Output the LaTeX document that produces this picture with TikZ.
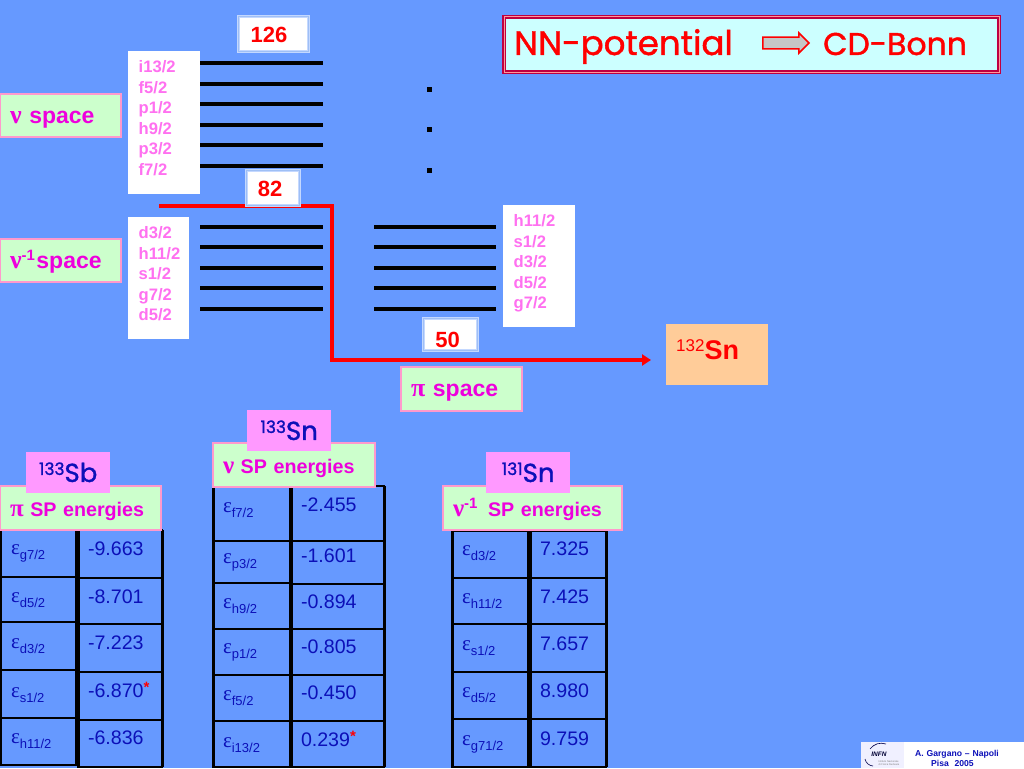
\documentclass[tikz,border=0pt]{standalone}
\usepackage{fontspec}
\setmainfont{Liberation Sans}
\newfontfamily\grk{Liberation Serif}
\newfontfamily\comic[FakeBold=1.2]{Poppins}
\usetikzlibrary{shapes, arrows.meta, positioning}
\definecolor{bgblue}{HTML}{6699FF}
\definecolor{spacegreen}{HTML}{CCFFCC}
\definecolor{spacepink}{HTML}{FF99CC}
\definecolor{tagpink}{HTML}{FF99FF}
\definecolor{listpink}{HTML}{FF70F0}
\definecolor{labelmag}{HTML}{EE00DD}
\definecolor{cellblue}{HTML}{0C10B8}
\definecolor{magicedge}{HTML}{C4D8FF}
\definecolor{magicband}{HTML}{9FBFF5}
\definecolor{titlefill}{HTML}{CCFFFF}
\definecolor{coreorange}{HTML}{FFCC99}
\newcommand{\fs}[1]{\fontsize{#1}{#1}\selectfont}
\newcommand{\upsc}[3]{\raisebox{#2pt}{\fs{#1}#3}}
\newcommand{\epsub}[1]{{\grk\fs{21}ε}\raisebox{-5pt}{\fs{13}#1}}
\newcommand{\starmark}{\raisebox{5pt}{\color{red}\bfseries\fs{15}*}}
\newcommand{\cellstrut}[3]{\rule[\dimexpr#3pt-#2pt\relax]{0pt}{\dimexpr#2pt-#1pt\relax}}
\begin{document}
\begin{tikzpicture}[x=1pt,y=-1pt]
    \tikzstyle{spacebox} = [rectangle, draw=spacepink, fill=spacegreen, line width=2pt, anchor=north west, inner xsep=10pt, inner ysep=0pt, outer sep=0pt, align=left, text=labelmag, text height=19pt, text depth=4pt, font=\bfseries\fs{23}]
    \tikzstyle{listbox} = [rectangle, fill=white, anchor=north west, inner xsep=10.5pt, inner ysep=0pt, align=left, text=listpink, font=\bfseries\fontsize{16.6}{20.5}\selectfont]
    \tikzstyle{magicbox} = [rectangle, draw=magicedge, double=magicband, double distance=1pt, line width=1pt, fill=white, text=red, inner sep=0pt, text height=20pt, text depth=2pt, font=\bfseries\fs{22}]
    \tikzstyle{tagbox} = [rectangle, fill=tagpink, inner sep=0pt, text=cellblue, minimum width=84pt, minimum height=41pt, font=\comic\fs{26}]
    \tikzstyle{headbox} = [spacebox, text height=20pt, text depth=4pt, font=\bfseries\fs{19.7}, minimum height=44pt]
    \tikzstyle{cellbox} = [rectangle, draw=black, line width=1.4pt, anchor=north west, inner xsep=10pt, inner ysep=0pt, outer sep=0pt, align=left, text=cellblue, font=\fs{19.6}]
    \tikzstyle{wall} = [line width=3pt]
    \tikzstyle{level} = [line width=3.2pt]
    \tikzstyle{shell} = [red, line width=3.2pt, -{Triangle[length=9pt,width=11pt]}]

    \fill[bgblue] (0,0) rectangle (1024,768);
    \useasboundingbox (0,0) rectangle (1024,768);

    % Levels
    \foreach \y in {63,84,104,125,145,166,227,247,268,288,309} \draw[level] (200,\y) -- (323,\y);
    \foreach \y in {227,247,268,288,309} \draw[level] (374,\y) -- (496,\y);
    \foreach \y in {89,129.5,170.5} \fill (427,\y-2.5) rectangle (432,\y+2.5);

    % Lists of orbitals
    \node (nulist) [listbox, minimum width=71.5pt, text width=50.5pt, minimum height=143pt] at (128,51) {i13/2\\f5/2\\p1/2\\h9/2\\p3/2\\f7/2\rule[-9pt]{0pt}{9pt}};
    \node (holelist) [listbox, minimum width=61pt, text width=40pt, minimum height=122pt] at (128,217) {d3/2\\h11/2\\s1/2\\g7/2\\d5/2\rule[-9pt]{0pt}{9pt}};
    \node (pilist) [listbox, minimum width=72pt, text width=51pt, minimum height=122pt] at (503,205) {h11/2\\s1/2\\d3/2\\d5/2\\g7/2\rule[-9pt]{0pt}{9pt}};

    % Space labels
    \node (nuspace) [spacebox, minimum width=121pt, text width=101pt, minimum height=43pt] at (0,94) {{\grk\fs{26}ν} space};
    \node (holespace) [spacebox, minimum width=121pt, text width=101pt, minimum height=43pt] at (0,239) {{\grk\fs{26}ν}\upsc{15}{8}{-1}\hspace{1.5pt}space};
    \node (pispace) [spacebox, minimum width=121pt, text width=101pt, minimum height=44pt] at (401,367) {{\grk\fs{26}π} space};

    % Shell closure
    \node (snbox) [rectangle, fill=coreorange, anchor=north west, minimum width=102pt, minimum height=61pt, inner xsep=10pt, inner ysep=0pt, text width=82pt, text height=22pt, text depth=13pt, text=red] at (666,324) {\raisebox{8pt}{\fs{17}132}\bfseries\fs{27}Sn};
    \coordinate (shellstart) at (159,206);
    \coordinate (shellcorner) at (332,206);
    \coordinate (shellbend) at (332,360);
    \coordinate (shellend) at (651,360);
    \draw[shell] (shellstart) -- (shellcorner) -- (shellbend) -- (shellend);

    \node (magicA) [magicbox, minimum width=70pt, minimum height=35pt] at (273.5,34) {\hspace*{-9pt}126};
    \node (magicB) [magicbox, minimum width=53pt, minimum height=35pt] at (273,187.5) {\hspace*{-6pt}82};
    \node (magicC) [magicbox, text height=26pt, text depth=1pt, minimum width=54pt, minimum height=32pt] at (450.5,334.5) {\hspace*{-6pt}50};

    % Title
    \node (title) [rectangle, draw=red!75!blue, double=white!60!red, double distance=1pt, line width=1.2pt, fill=titlefill, minimum width=495pt, minimum height=55pt] at (751.5,44.5) {};
    \node (nntext) [text=red, anchor=base west, inner sep=0pt, font=\comic\fs{34}] at (514,55) {NN-potential};
    \node (nnarrow) [single arrow, draw=red, line width=1.5pt, fill=gray!45!white, inner sep=5pt, minimum width=20pt, minimum height=46pt, single arrow head extend=4pt] at (783,43) {};
    \node (cdbonn) [text=red, anchor=base west, inner sep=0pt, font=\comic\fs{31.5}] at (823,55) {CD-Bonn};

    % Table of the 133Sb energies
    \foreach \i/\ytop/\ybot/\ybase/\lab in {1/530/577/554/g7\slash 2, 2/577/622/602/d5\slash 2, 3/622/670/648/d3\slash 2, 4/670/718/697/s1\slash 2, 5/718/765/743/h11\slash 2}
        \node (sbL\i) [cellbox, minimum width=75pt, text width=55pt] at (1,\ytop) {\cellstrut{\ytop}{\ybot}{\ybase}\epsub{\lab}};
    \foreach \i/\ytop/\ybot/\ybase/\val in {1/530/578/555/-9.663, 2/578/624/603/-8.701, 3/624/672/649/-7.223, 4/672/720/697/{-6.870\starmark}, 5/720/767/744/-6.836}
        \node (sbR\i) [cellbox, minimum width=84pt, text width=64pt] at (78,\ytop) {\cellstrut{\ytop}{\ybot}{\ybase}\val};
    \draw[wall] (sbL1.north east) -- (sbL5.south east);
    \draw[wall] (sbR1.north west) -- (sbR5.south west);
    \draw[wall] (sbR1.north east) -- (sbR5.south east);
    \node (sbhead) [headbox, minimum width=161pt, text width=141pt] at (0,486) {{\grk\fs{25}π} SP energies};
    \node (sbtag) [tagbox, above right=-7pt and 26pt of sbhead.north west] {\raisebox{7pt}{\fs{17}133}Sb};

    % Table of the 133Sn energies
    \foreach \i/\ytop/\ybot/\ybase/\lab in {1/487/541/512/f7\slash 2, 2/541/583/563/p3\slash 2, 3/583/629/608/h9\slash 2, 4/629/675/653/p1\slash 2, 5/675/721/700/f5\slash 2, 6/721/767/747/i13\slash 2}
        \node (snL\i) [cellbox, minimum width=77pt, text width=57pt] at (213,\ytop) {\cellstrut{\ytop}{\ybot}{\ybase}\epsub{\lab}};
    \foreach \i/\ytop/\ybot/\ybase/\val in {1/486/541/511/-2.455, 2/541/584/562/-1.601, 3/584/629/608/-0.894, 4/629/675/653/-0.805, 5/675/721/699/-0.450, 6/721/767/746/{0.239\starmark}}
        \node (snR\i) [cellbox, minimum width=93pt, text width=73pt] at (291,\ytop) {\cellstrut{\ytop}{\ybot}{\ybase}\val};
    \draw[wall] (snL1.north west) -- (snL6.south west);
    \draw[wall] (snR1.north west) -- (snR6.south west);
    \draw[wall] (snR1.north east) -- (snR6.south east);
    \node (snhead) [headbox, minimum width=162pt, text width=142pt] at (213,443) {{\grk\fs{25}ν} SP energies};
    \node (sntag) [tagbox, above right=-8pt and 34pt of snhead.north west] {\raisebox{7pt}{\fs{17}133}Sn};

    % Table of the 131Sn energies
    \foreach \i/\ytop/\ybot/\ybase/\lab in {1/531/578/555/d3\slash 2, 2/578/624/603/h11\slash 2, 3/624/672/650/s1\slash 2, 4/672/719/697/d5\slash 2, 5/719/767/745/g71\slash 2}
        \node (hoL\i) [cellbox, minimum width=76pt, text width=56pt] at (452,\ytop) {\cellstrut{\ytop}{\ybot}{\ybase}\epsub{\lab}};
    \foreach \i/\ytop/\ybot/\ybase/\val in {1/531/578/555/7.325, 2/578/624/603/7.425, 3/624/672/650/7.657, 4/672/719/697/8.980, 5/719/767/745/9.759}
        \node (hoR\i) [cellbox, minimum width=76pt, text width=56pt] at (530,\ytop) {\cellstrut{\ytop}{\ybot}{\ybase}\val};
    \draw[wall] (hoL1.north west) -- (hoL5.south west);
    \draw[wall] (hoL1.north east) -- (hoL5.south east);
    \draw[wall] (hoR1.north west) -- (hoR5.south west);
    \draw[wall] (hoR1.north east) -- (hoR5.south east);
    \node (hohead) [headbox, minimum width=179pt, text width=159pt] at (443,486) {{\grk\fs{25}ν}\upsc{15}{8}{-1}\hspace{4pt} SP energies};
    \node (hotag) [tagbox, above right=-7pt and 43pt of hohead.north west] {\raisebox{7pt}{\fs{17}131}Sn};

    % Footer
    \node (footer) [rectangle, fill=white, anchor=north west, minimum width=120pt, minimum height=26pt, inner sep=0pt, text width=120pt, align=left, text=cellblue, font=\bfseries\fontsize{8.6}{10}\selectfont] at (904,742) {\hspace*{11pt}\rule{0pt}{13pt}A. Gargano -- Napoli\\\hspace*{27pt}Pisa\ \ 2005};
    \node (logo) [rectangle, fill=blue!6!white, anchor=north east, minimum width=43pt, minimum height=26pt, inner sep=0pt] at (904,742) {};
    \node (infn) [text=black!80!blue, inner sep=0pt, font=\bfseries\itshape\fs{6.5}] at (879,754) {INFN};
    \node (infnsub) [text=gray, inner sep=0pt, align=left, font=\fontsize{2.6}{3}\selectfont] at (889,763) {Istituto Nazionale\\di Fisica Nucleare};
    \draw[black!70!blue, line width=0.6pt] (870,749) to[bend left=35] (886,744);
    \draw[black!70!blue, line width=0.6pt] (865,759) to[bend right=35] (873,766);
\end{tikzpicture}
\end{document}
